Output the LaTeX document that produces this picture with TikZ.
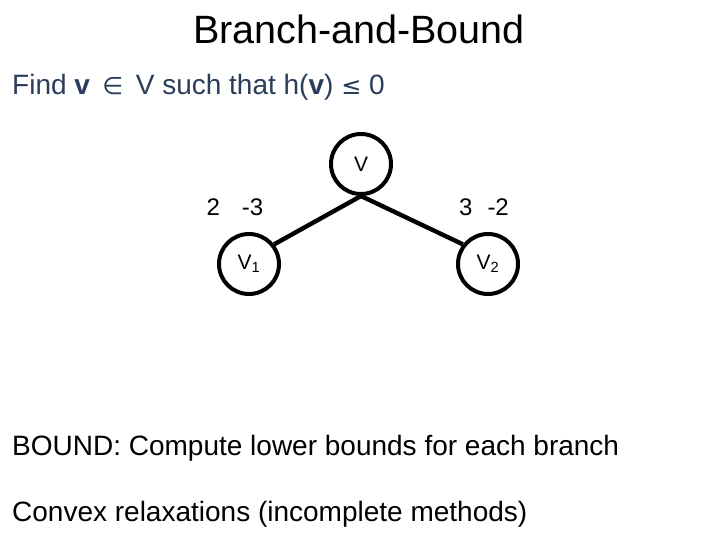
\documentclass[tikz,border=0pt]{standalone}
\usepackage{fontspec}
\setmainfont{Liberation Sans}
\newfontfamily\symfont{DejaVu Sans}
\usepackage{tikz}
\usetikzlibrary{positioning,shapes.geometric}
\definecolor{ink}{HTML}{000000}
\definecolor{findblue}{HTML}{2A3D5B}
\tikzset{
  nodo/.style={draw=ink,circle,line width=4pt,minimum size=60pt,inner sep=0pt,font=\fontsize{21}{24}\selectfont},
  rama/.style={draw=ink,line width=4.4pt},
  cota/.style={font=\fontsize{24}{28}\selectfont,inner sep=0pt,anchor=base},
  texto/.style={font=\fontsize{28}{32}\selectfont,inner sep=0pt,anchor=base west},
}
\begin{document}
\begin{tikzpicture}[x=1pt,y=-1pt]
  \useasboundingbox[fill=white] (0,0) rectangle (720,540);
  \node[font=\fontsize{39.5}{44}\selectfont,inner sep=0pt,anchor=base] (titulo) at (359,44) {Branch-and-Bound};
  \node[texto,text=findblue] (meta) at (12,95) {Find \textbf{v} \,{\symfont\fontsize{24}{28}\selectfont∈}\, V such that h(\textbf{v}) {\symfont\fontsize{24}{28}\selectfont≤} 0};
  % arbol
  \node[nodo] (raiz) at (361,164) {V};
  \node[nodo] (v1) at (249,264) {V\textsubscript{1}};
  \node[nodo] (v2) at (488,264) {V\textsubscript{2}};
  \draw[rama] (raiz.south) -- (v1.38);
  \draw[rama] (raiz.south) -- (v2.142);
  \node[cota] (c1) at (235,215) {2\hspace{22pt}-3};
  \node[cota] (c2) at (484,215) {3\hspace{15pt}-2};
  \node[texto] (bound) at (12,455) {BOUND: Compute lower bounds for each branch};
  \node[texto] (convexo) at (12,521) {Convex relaxations (incomplete methods)};
\end{tikzpicture}
\end{document}
